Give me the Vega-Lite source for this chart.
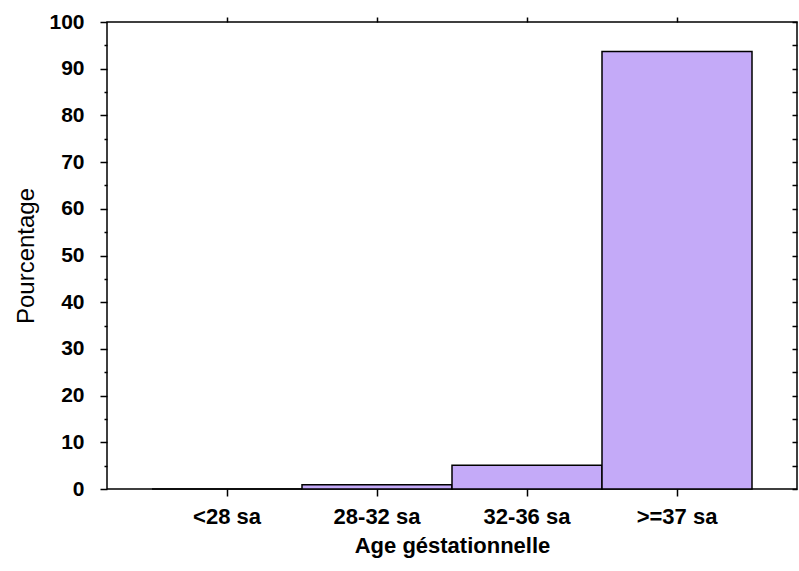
{
  "$schema": "https://vega.github.io/schema/vega-lite/v6.json",
  "autosize": {"type": "none"},
  "width": 690,
  "height": 467,
  "padding": {"left": 107, "top": 22, "right": 2, "bottom": 82},
  "background": "white",
  "config": {
    "view": {"stroke": "black", "strokeWidth": 1.5},
    "font": "Liberation Sans",
    "axis": {
      "grid": false,
      "domain": false,
      "tickColor": "black",
      "tickWidth": 1.5,
      "labelColor": "black",
      "titleColor": "black",
      "labelFont": "Liberation Sans",
      "titleFont": "Liberation Sans"
    }
  },
  "data": {
    "values": [
      {"age": "<28 sa", "pct": 0},
      {"age": "28-32 sa", "pct": 0.9},
      {"age": "32-36 sa", "pct": 5.1},
      {"age": ">=37 sa", "pct": 93.7}
    ]
  },
  "layer": [
    {
      "mark": {"type": "bar", "fill": "#c4aaf8", "stroke": "black", "strokeWidth": 1.5},
      "encoding": {
        "x": {
          "field": "age",
          "type": "nominal",
          "sort": null,
          "scale": {"paddingInner": 0, "paddingOuter": 0.3},
          "axis": {
            "orient": "bottom",
            "title": "Age géstationnelle",
            "labelAngle": 0,
            "labelFontSize": 22,
            "labelFontWeight": "bold",
            "labelPadding": 10,
            "tickSize": 7,
            "titleFontSize": 22,
            "titleFontWeight": "bold",
            "titlePadding": 8
          }
        },
        "y": {
          "field": "pct",
          "type": "quantitative",
          "scale": {"domain": [0, 100], "nice": false},
          "axis": {
            "orient": "left",
            "title": "Pourcentage",
            "values": [0, 5, 10, 15, 20, 25, 30, 35, 40, 45, 50, 55, 60, 65, 70, 75, 80, 85, 90, 95, 100],
            "labelExpr": "datum.value % 10 === 0 ? datum.label : ''",
            "tickSize": {"condition": {"test": "datum.value % 10 === 0", "value": 7}, "value": 3},
            "labelFontSize": 21,
            "labelFontWeight": "bold",
            "labelPadding": 16,
            "labelOverlap": false,
            "titleFontSize": 24,
            "titleFontWeight": "normal",
            "titlePadding": 10
          }
        }
      }
    },
    {
      "mark": {"type": "bar", "opacity": 0},
      "encoding": {
        "x": {
          "field": "age",
          "type": "nominal",
          "sort": null,
          "axis": {"orient": "top", "title": null, "labels": false, "tickSize": 5}
        },
        "y": {
          "field": "pct",
          "type": "quantitative",
          "axis": {
            "orient": "right",
            "title": null,
            "labels": false,
            "values": [0, 5, 10, 15, 20, 25, 30, 35, 40, 45, 50, 55, 60, 65, 70, 75, 80, 85, 90, 95, 100],
            "tickSize": -5
          }
        }
      }
    }
  ],
  "resolve": {"axis": {"x": "independent", "y": "independent"}}
}
